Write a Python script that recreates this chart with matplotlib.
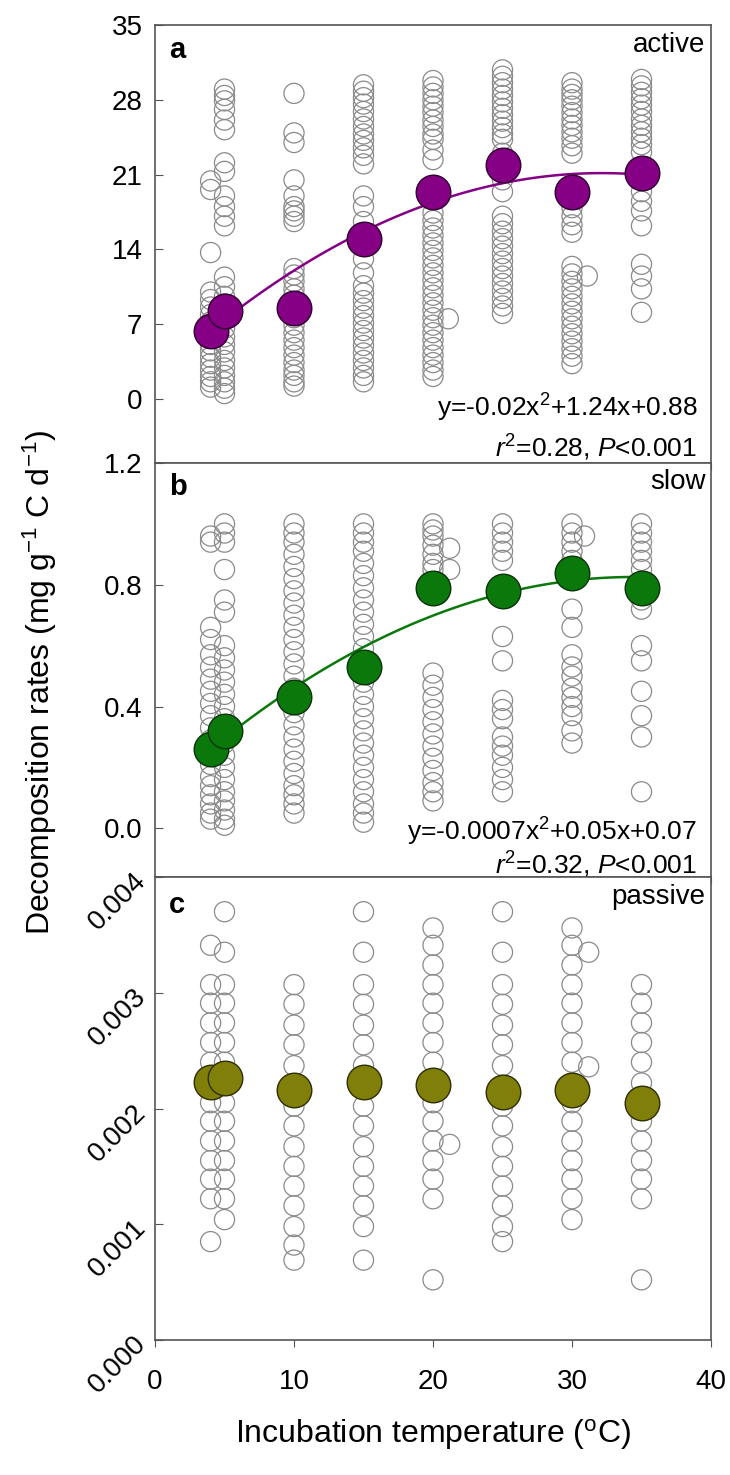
import numpy as np
import matplotlib
matplotlib.use("Agg")
import matplotlib.pyplot as plt

plt.rcParams['font.family'] = ['Liberation Sans', 'DejaVu Sans']
plt.rcParams['mathtext.fontset'] = 'custom'
plt.rcParams['mathtext.rm'] = 'Liberation Sans'
plt.rcParams['mathtext.it'] = 'Liberation Sans:italic'
plt.rcParams['mathtext.bf'] = 'Liberation Sans:bold'

temps = [4, 5, 10, 15, 20, 25, 30, 35]

# active pool, raw observations per temperature
active_obs = {
    4: [20.4, 19.6, 13.7, 10.0, 9.3, 8.6, 7.9, 7.2, 6.5, 5.8, 5.1, 4.5, 3.9, 3.3, 2.7, 2.1, 1.6, 1.1],
    5: [29.0, 28.4, 27.9, 27.1, 26.1, 25.2, 22.1, 21.3, 19.0, 18.0, 17.1, 16.2, 11.4, 10.5, 9.6, 8.9,
        8.1, 7.4, 6.6, 5.8, 5.1, 4.4, 3.6, 2.9, 2.2, 1.6, 1.0, 0.5],
    10: [28.6, 24.9, 24.0, 20.5, 19.0, 18.0, 17.6, 17.1, 16.6, 12.2, 11.6, 11.0, 10.3, 9.7, 9.0, 8.3,
         7.6, 6.9, 6.2, 5.5, 4.8, 4.1, 3.4, 2.7, 2.2, 1.6, 1.2],
    15: [29.4, 28.8, 28.2, 27.6, 26.9, 26.2, 25.5, 24.8, 24.2, 23.5, 22.8, 22.0, 19.0, 18.0, 16.6, 13.1,
         11.8, 10.6, 9.9, 9.2, 8.5, 7.8, 7.1, 6.4, 5.7, 5.0, 4.3, 3.6, 2.9, 2.2, 1.6],
    20: [29.8, 29.2, 28.6, 28.0, 27.4, 26.8, 26.1, 25.5, 24.8, 24.3, 23.3, 22.4, 17.4, 16.7, 16.0, 15.3,
         14.6, 13.9, 13.2, 12.5, 11.8, 11.1, 10.4, 9.7, 9.0, 8.3, 7.6, 6.9, 6.2, 5.5, 4.8, 4.1, 3.4, 2.7, 2.1],
    25: [30.8, 30.2, 29.6, 29.0, 28.4, 27.8, 27.2, 26.6, 26.0, 25.4, 24.8, 24.3, 23.0, 20.5, 19.4, 17.1,
         16.4, 15.7, 15.0, 14.3, 13.6, 12.9, 12.2, 11.5, 10.8, 10.1, 9.4, 8.7, 8.0],
    30: [29.6, 29.0, 28.5, 28.0, 27.4, 26.8, 26.2, 25.6, 25.0, 24.4, 23.7, 23.0, 18.7, 17.9, 17.1, 16.3,
         15.6, 12.4, 11.7, 11.0, 10.3, 9.6, 8.9, 8.2, 7.5, 6.8, 6.1, 5.4, 4.7, 4.0, 3.3],
    35: [29.9, 29.3, 28.7, 28.1, 27.5, 26.9, 26.2, 25.6, 25.0, 24.4, 23.8, 23.1, 19.4, 18.5, 17.6, 16.2,
         12.6, 11.5, 10.3, 8.1],
}
active_extra_x = [21.1, 31.1]
active_extra_y = [7.5, 11.5]
active_mean = [6.4, 8.2, 8.5, 15.0, 19.4, 21.9, 19.4, 21.1]
active_fit = [-0.0186, 1.196, 1.91]

slow_obs = {
    4: [0.96, 0.94, 0.66, 0.62, 0.57, 0.53, 0.49, 0.45, 0.41, 0.37, 0.33, 0.29, 0.25, 0.21, 0.17, 0.14,
        0.11, 0.08, 0.05, 0.03],
    5: [1.00, 0.97, 0.94, 0.85, 0.75, 0.71, 0.60, 0.56, 0.52, 0.48, 0.44, 0.40, 0.36, 0.32, 0.28, 0.24,
        0.20, 0.16, 0.12, 0.09, 0.06, 0.03, 0.01],
    10: [1.00, 0.97, 0.94, 0.90, 0.86, 0.82, 0.78, 0.74, 0.70, 0.66, 0.62, 0.58, 0.54, 0.50, 0.46, 0.38,
         0.34, 0.30, 0.26, 0.22, 0.18, 0.14, 0.11, 0.08, 0.05],
    15: [1.00, 0.97, 0.94, 0.91, 0.87, 0.83, 0.79, 0.75, 0.71, 0.67, 0.63, 0.59, 0.48, 0.44, 0.40, 0.36,
         0.32, 0.28, 0.24, 0.20, 0.16, 0.12, 0.08, 0.05, 0.02],
    20: [1.00, 0.98, 0.96, 0.93, 0.90, 0.87, 0.85, 0.51, 0.47, 0.43, 0.39, 0.35, 0.31, 0.27, 0.23, 0.19,
         0.15, 0.12, 0.09],
    25: [1.00, 0.97, 0.94, 0.91, 0.88, 0.63, 0.55, 0.42, 0.39, 0.36, 0.30, 0.27, 0.24, 0.20, 0.16, 0.12],
    30: [1.00, 0.97, 0.94, 0.91, 0.88, 0.72, 0.66, 0.57, 0.53, 0.50, 0.46, 0.43, 0.40, 0.37, 0.32, 0.28],
    35: [1.00, 0.97, 0.94, 0.91, 0.88, 0.85, 0.75, 0.72, 0.60, 0.55, 0.45, 0.37, 0.30, 0.12],
}
slow_extra_x = [21.2, 21.2, 30.9]
slow_extra_y = [0.92, 0.85, 0.96]
slow_mean = [0.26, 0.32, 0.43, 0.53, 0.79, 0.78, 0.84, 0.79]
slow_fit = [-0.000612, 0.0421, 0.1015]

passive_obs = {
    4: [0.00341, 0.00307, 0.00291, 0.00274, 0.00257, 0.00240, 0.00222, 0.00205, 0.00189, 0.00172,
        0.00155, 0.00139, 0.00122, 0.00085],
    5: [0.00370, 0.00335, 0.00307, 0.00291, 0.00274, 0.00257, 0.00240, 0.00205, 0.00189, 0.00172,
        0.00155, 0.00139, 0.00122, 0.00104],
    10: [0.00307, 0.00290, 0.00272, 0.00255, 0.00237, 0.00220, 0.00202, 0.00185, 0.00167, 0.00150,
         0.00133, 0.00116, 0.00098, 0.00082, 0.00069],
    15: [0.00370, 0.00335, 0.00307, 0.00290, 0.00272, 0.00255, 0.00237, 0.00220, 0.00202, 0.00185,
         0.00167, 0.00150, 0.00133, 0.00116, 0.00098, 0.00069],
    20: [0.00356, 0.00341, 0.00324, 0.00307, 0.00291, 0.00274, 0.00257, 0.00240, 0.00224, 0.00205,
         0.00189, 0.00172, 0.00155, 0.00139, 0.00122, 0.00052],
    25: [0.00370, 0.00335, 0.00307, 0.00290, 0.00272, 0.00255, 0.00237, 0.00220, 0.00202, 0.00185,
         0.00167, 0.00150, 0.00133, 0.00116, 0.00098, 0.00085],
    30: [0.00356, 0.00341, 0.00324, 0.00307, 0.00291, 0.00274, 0.00257, 0.00240, 0.00222, 0.00205,
         0.00189, 0.00172, 0.00155, 0.00139, 0.00122, 0.00104],
    35: [0.00307, 0.00291, 0.00274, 0.00257, 0.00240, 0.00222, 0.00205, 0.00189, 0.00172, 0.00155,
         0.00139, 0.00122, 0.00052],
}
passive_extra_x = [21.2, 31.2, 31.2]
passive_extra_y = [0.00169, 0.00335, 0.00236]
passive_mean = [0.00223, 0.00226, 0.00216, 0.00223, 0.00220, 0.00214, 0.00216, 0.00205]

W, H = 730, 1475
fig = plt.figure(figsize=(W / 100, H / 100), dpi=100)

def axes_px(top, bottom, left=155, right=711):
    return fig.add_axes([left / W, 1 - bottom / H, (right - left) / W, (bottom - top) / H])

def panel(ax, obs, ex_x, ex_y, mean, color, edge, fit=None):
    for t in temps:
        ax.scatter([t] * len(obs[t]), obs[t], s=210, facecolors='none',
                   edgecolors='#8a8a8a', linewidths=0.9, zorder=2)
    ax.scatter(ex_x, ex_y, s=210, facecolors='none', edgecolors='#8a8a8a',
               linewidths=0.9, zorder=2)
    if fit is not None:
        xs = np.linspace(4, 35, 100)
        ax.plot(xs, np.polyval(fit, xs), color=color, lw=1.8, zorder=3)
    ax.scatter(temps, mean, s=620, color=color, edgecolors=edge, linewidths=1.0, zorder=4)
    ax.set_xlim(0, 40)
    ax.set_xticks([0, 10, 20, 30, 40])
    ax.tick_params(axis='x', direction='out', length=5, color='#555555', labelbottom=False)
    ax.tick_params(axis='y', direction='in', length=6, color='#555555', labelsize=20, pad=9)
    for sp in ax.spines.values():
        sp.set_color('#555555')
        sp.set_linewidth(1.2)

ax_a = axes_px(25, 463)
panel(ax_a, active_obs, active_extra_x, active_extra_y, active_mean, '#850085', '#2e002e', active_fit)
ax_a.set_ylim(-6, 35)
ax_a.set_yticks([0, 7, 14, 21, 28, 35])

ax_b = axes_px(463, 877)
panel(ax_b, slow_obs, slow_extra_x, slow_extra_y, slow_mean, '#0a780a', '#0a330a', slow_fit)
ax_b.set_ylim(-0.16, 1.2)
ax_b.set_yticks([0.0, 0.4, 0.8, 1.2])
ax_b.set_yticklabels(['0.0', '0.4', '0.8', '1.2'])

ax_c = axes_px(877, 1340)
panel(ax_c, passive_obs, passive_extra_x, passive_extra_y, passive_mean, '#7f7f0a', '#2e2e00')
ax_c.set_ylim(0, 0.004)
ax_c.set_yticks([0.000, 0.001, 0.002, 0.003, 0.004])
ax_c.set_yticklabels(['0.000', '0.001', '0.002', '0.003', '0.004'],
                     rotation=45, rotation_mode='anchor', ha='right', va='center')
ax_c.tick_params(axis='x', labelbottom=True, labelsize=20, pad=16)
ax_c.set_xlabel('Incubation temperature ($^{\\mathrm{o}}$C)', fontsize=23, labelpad=16)

labels = [(ax_a, 'a', 'active', 'y=-0.02x$^2$+1.24x+0.88', '$r^2$=0.28, $P$<0.001', 0.125, 0.035),
          (ax_b, 'b', 'slow', 'y=-0.0007x$^2$+0.05x+0.07', '$r^2$=0.32, $P$<0.001', 0.108, 0.030)]
for ax, letter, name, eq, stat, eqy, sty in labels:
    ax.text(0.025, 0.975, letter, transform=ax.transAxes, fontsize=21, fontweight='bold',
            va='top', ha='left')
    ax.text(0.99, 0.985, name, transform=ax.transAxes, fontsize=20, va='top', ha='right')
    ax.text(0.975, eqy, eq, transform=ax.transAxes, fontsize=19, va='center', ha='right')
    ax.text(0.975, sty, stat, transform=ax.transAxes, fontsize=19, va='center', ha='right')

ax_c.text(0.025, 0.94, 'c', transform=ax_c.transAxes, fontsize=21, fontweight='bold',
          va='center', ha='left')
ax_c.text(0.99, 0.985, 'passive', transform=ax_c.transAxes, fontsize=20, va='top', ha='right')

fig.text(0.055, 1 - 682 / H, 'Decomposition rates (mg g$^{-1}$ C d$^{-1}$)', rotation=90,
         fontsize=23, ha='center', va='center')

fig.savefig('out.png', dpi=100)
